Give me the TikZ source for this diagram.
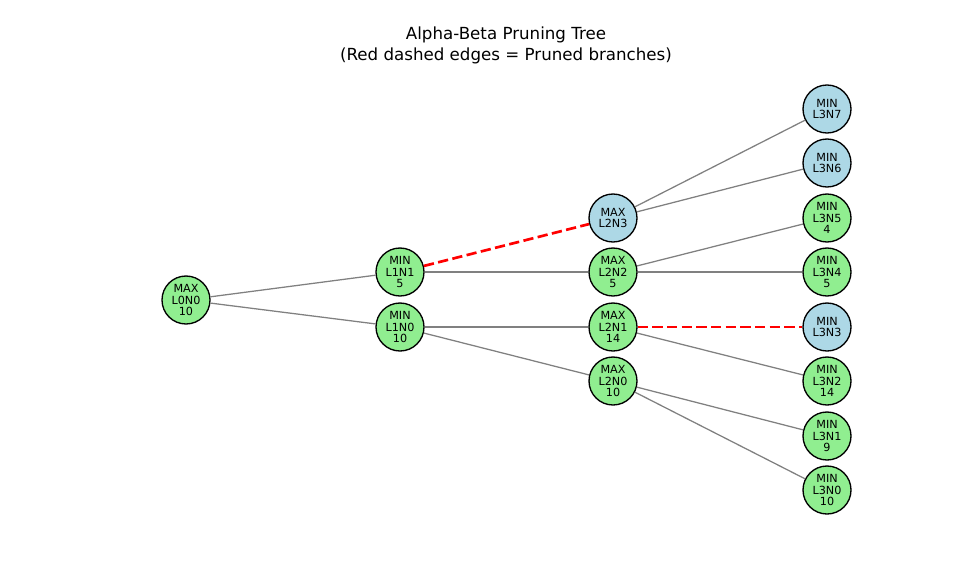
\documentclass[tikz,border=0pt]{standalone}
\usepackage{fontspec}
\setmainfont{DejaVu Sans}
\definecolor{lgreen}{HTML}{90EE90}
\definecolor{lblue}{HTML}{ADD8E6}
\definecolor{edgegray}{HTML}{808080}
\begin{document}
\begin{tikzpicture}[x=0.75pt,y=-0.75pt,
  tn/.style={circle,draw=black,line width=1pt,minimum size=36pt,inner sep=0pt,align=center,
    font=\fontsize{8.4}{8.5}\selectfont},
  gn/.style={tn,fill=lgreen},
  bn/.style={tn,fill=lblue},
  edge/.style={draw=edgegray,line width=0.95pt},
  pruned/.style={draw=red,line width=2pt,dash pattern=on 7.7pt off 3.3pt}]
\useasboundingbox (0,0) rectangle (968,579);
\node[font=\fontsize{12.5}{15.8}\selectfont,align=center] (title) at (506,45) {Alpha-Beta Pruning Tree\\(Red dashed edges = Pruned branches)};
\node[gn] (L0N0) at (186,300) {MAX\\L0N0\\10};
\node[gn] (L1N1) at (400,272) {MIN\\L1N1\\5};
\node[gn] (L1N0) at (400,327) {MIN\\L1N0\\10};
\node[bn] (L2N3) at (613,218) {MAX\\L2N3};
\node[gn] (L2N2) at (613,272) {MAX\\L2N2\\5};
\node[gn] (L2N1) at (613,327) {MAX\\L2N1\\14};
\node[gn] (L2N0) at (613,381) {MAX\\L2N0\\10};
\node[bn] (L3N7) at (827,109) {MIN\\L3N7};
\node[bn] (L3N6) at (827,163) {MIN\\L3N6};
\node[gn] (L3N5) at (827,218) {MIN\\L3N5\\4};
\node[gn] (L3N4) at (827,272) {MIN\\L3N4\\5};
\node[bn] (L3N3) at (827,327) {MIN\\L3N3};
\node[gn] (L3N2) at (827,381) {MIN\\L3N2\\14};
\node[gn] (L3N1) at (827,436) {MIN\\L3N1\\9};
\node[gn] (L3N0) at (827,490) {MIN\\L3N0\\10};
\draw[edge] (L0N0) -- (L1N1);
\draw[edge] (L0N0) -- (L1N0);
\draw[pruned] (L1N1) -- (L2N3);
\draw[edge] (L1N1) -- (L2N2);
\draw[edge] (L1N0) -- (L2N1);
\draw[edge] (L1N0) -- (L2N0);
\draw[edge] (L2N3) -- (L3N7);
\draw[edge] (L2N3) -- (L3N6);
\draw[edge] (L2N2) -- (L3N5);
\draw[edge] (L2N2) -- (L3N4);
\draw[pruned] (L2N1) -- (L3N3);
\draw[edge] (L2N1) -- (L3N2);
\draw[edge] (L2N0) -- (L3N1);
\draw[edge] (L2N0) -- (L3N0);
\end{tikzpicture}
\end{document}
